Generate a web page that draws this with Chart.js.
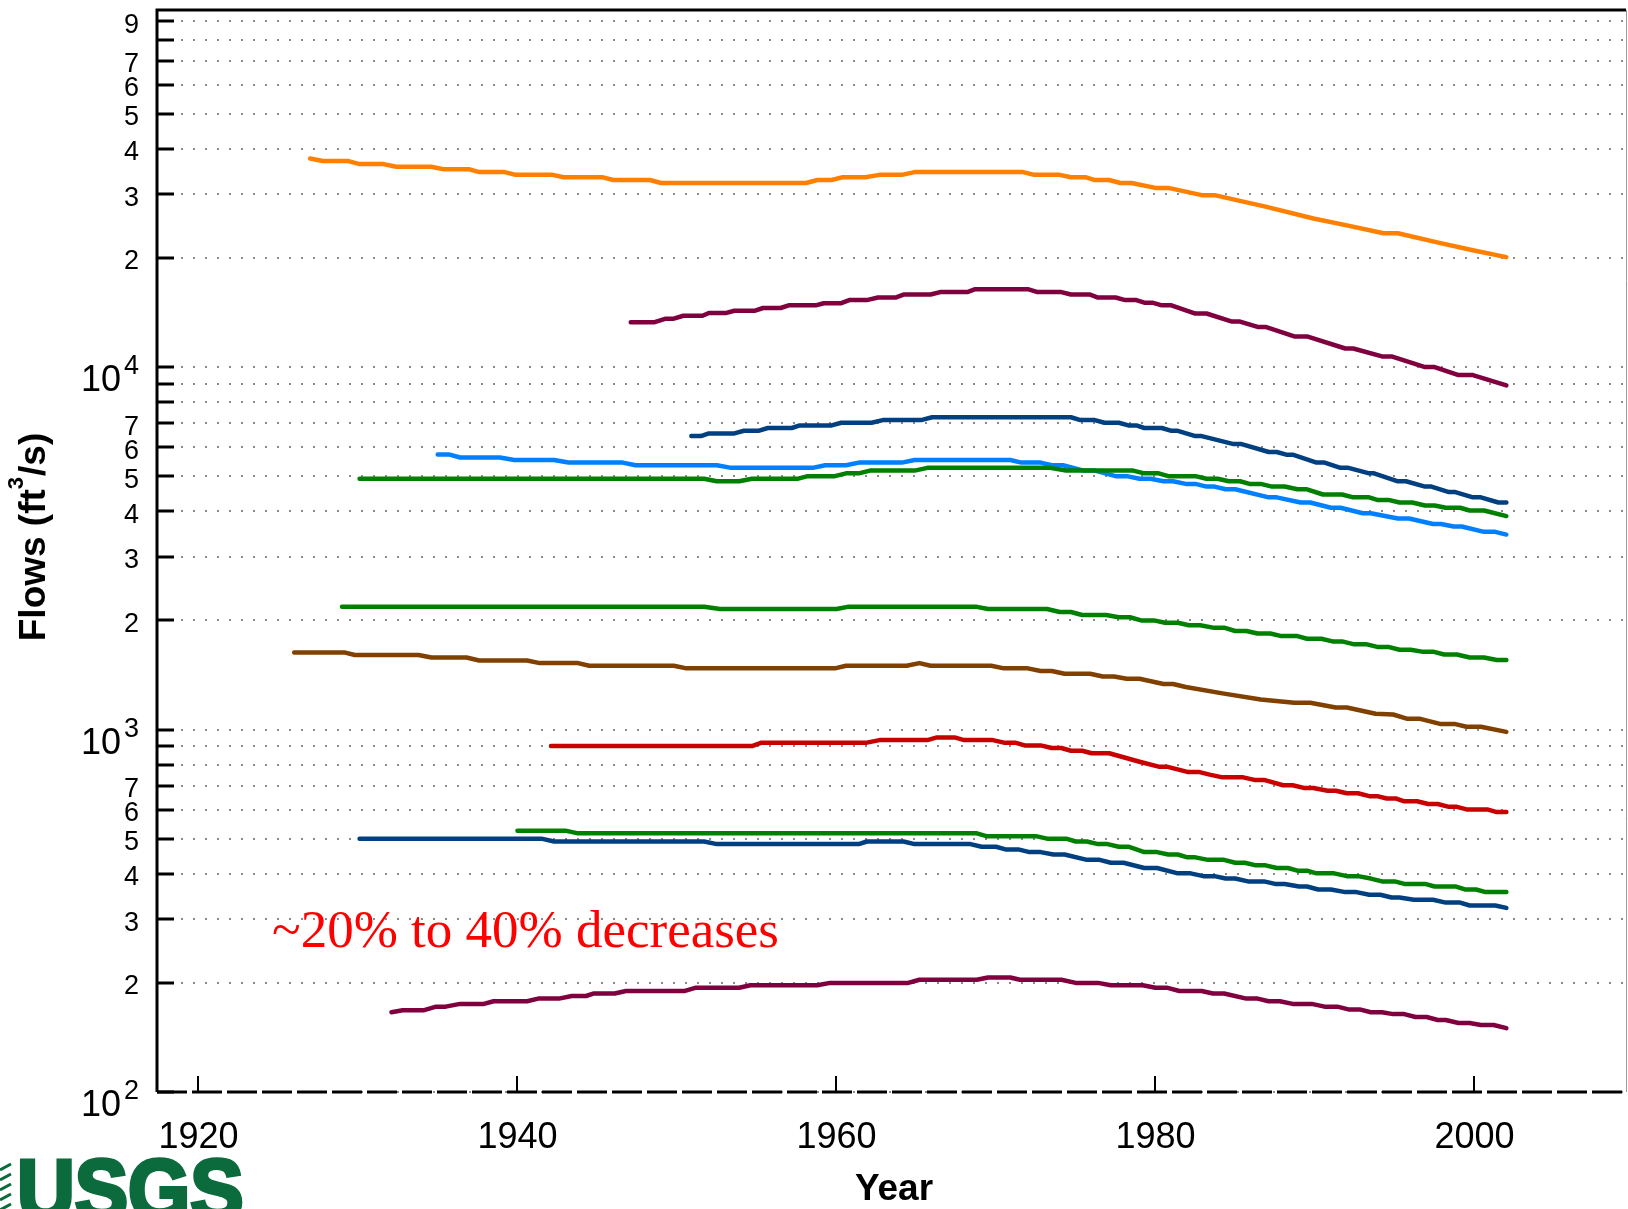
<!DOCTYPE html>
<html>
<head>
<meta charset="utf-8">
<script src="https://cdn.jsdelivr.net/npm/chart.js@4.4.1/dist/chart.umd.min.js"></script>
<style>
body{margin:0;background:#fff;}
canvas{display:block;}
</style>
</head>
<body>
<canvas id="flowChart" width="1628" height="1209"></canvas>
<script>
// flows, ft3/s, one pair of arrays per gauge line
const orangeYears = [1927.0,1927.8,1929.4,1930.1,1931.6,1932.4,1934.6,1935.4,1937.0,1937.6,1939.2,1939.9,1942.2,1942.9,1945.3,1946.0,1948.3,1949.0,1958.1,1958.8,1959.7,1960.4,1961.8,1962.7,1964.1,1964.9,1971.7,1972.4,1974.0,1974.7,1975.6,1976.2,1977.1,1977.8,1978.5,1980.0,1980.8,1982.9,1983.7,1986.9,1989.9,1992.0,1994.3,1995.2,1997.8,1999.9,2002.0];
const orangeFlows = [37600,37000,37000,36300,36300,35700,35700,35100,35100,34500,34500,33900,33900,33400,33400,32800,32800,32200,32200,32800,32800,33400,33400,33900,33900,34500,34500,33900,33900,33400,33400,32800,32800,32200,32200,31200,31200,29800,29800,27700,25700,24600,23400,23400,22000,21000,20100];

const plumTopYears = [1947.1,1948.6,1949.3,1949.8,1950.4,1951.6,1952.0,1953.1,1953.6,1954.9,1955.4,1956.5,1957.0,1958.7,1959.2,1960.3,1960.8,1961.9,1962.6,1963.7,1964.2,1965.9,1966.5,1968.2,1968.7,1972.0,1972.6,1974.1,1974.7,1975.9,1976.4,1977.5,1978.1,1978.8,1979.3,1979.8,1980.4,1981.0,1982.5,1983.2,1984.8,1985.3,1986.4,1986.9,1988.7,1989.5,1991.9,1992.4,1994.2,1994.8,1996.9,1997.5,1999.0,1999.9,2002.0];
const plumTopFlows = [13300,13300,13600,13600,13850,13850,14100,14100,14300,14300,14550,14550,14800,14800,15000,15000,15300,15300,15550,15550,15850,15850,16100,16100,16400,16400,16100,16100,15850,15850,15550,15550,15300,15300,15050,15050,14800,14800,14050,14050,13350,13350,12900,12900,12150,12150,11250,11250,10700,10700,10000,10000,9500,9500,8900];

const navyTopYears = [1950.9,1951.5,1952.0,1953.6,1954.2,1955.1,1955.7,1957.2,1957.7,1959.7,1960.3,1962.2,1962.9,1965.3,1966.0,1974.7,1975.3,1976.2,1976.8,1977.7,1978.3,1978.8,1979.3,1980.4,1981.0,1981.4,1982.5,1982.9,1984.9,1985.4,1987.1,1987.6,1988.2,1988.6,1990.1,1990.6,1991.6,1992.1,1993.4,1993.7,1995.2,1995.7,1996.9,1997.3,1998.4,1998.8,1999.9,2000.4,2001.5,2002.0];
const navyTopFlows = [6450,6450,6560,6560,6670,6670,6790,6790,6900,6900,7020,7020,7140,7140,7270,7270,7140,7140,7020,7020,6900,6900,6790,6790,6670,6670,6450,6450,6130,6130,5830,5830,5730,5730,5450,5450,5270,5270,5090,5090,4840,4840,4680,4680,4520,4520,4370,4370,4230,4230];

const skyYears = [1935.0,1935.7,1936.4,1938.9,1939.8,1942.3,1943.2,1946.6,1947.4,1952.5,1953.4,1958.5,1959.3,1960.6,1961.4,1964.1,1964.9,1970.9,1971.6,1972.8,1973.5,1974.2,1975.5,1976.2,1977.5,1978.2,1979.0,1979.7,1980.5,1981.1,1981.9,1982.5,1983.2,1983.7,1984.4,1985.0,1987.1,1987.6,1989.1,1989.7,1991.0,1991.6,1993.0,1993.5,1995.2,1995.9,1997.4,1997.9,1998.7,1999.2,2000.6,2001.3,2002.0];
const skyFlows = [5740,5740,5630,5630,5540,5540,5450,5450,5360,5360,5270,5270,5360,5360,5450,5450,5540,5540,5450,5450,5360,5360,5180,5180,5000,5000,4920,4920,4840,4840,4760,4760,4680,4680,4600,4600,4370,4370,4230,4230,4090,4090,3950,3950,3820,3820,3690,3690,3630,3630,3510,3510,3450];

const greenTopYears = [1930.1,1951.7,1952.5,1953.9,1954.7,1957.6,1958.2,1959.9,1960.6,1961.4,1962.1,1964.9,1965.7,1973.4,1974.4,1978.6,1979.3,1980.2,1980.8,1982.5,1983.2,1983.9,1984.6,1985.3,1985.9,1986.6,1987.3,1988.1,1988.9,1989.5,1990.5,1991.7,1992.4,1993.4,1993.9,1994.6,1995.3,1996.1,1996.9,1997.5,1998.2,1999.1,1999.7,2000.6,2002.0];
const greenTopFlows = [4920,4920,4840,4840,4920,4920,5000,5000,5090,5090,5180,5180,5270,5270,5180,5180,5090,5090,5000,5000,4920,4920,4840,4840,4760,4760,4680,4680,4600,4600,4450,4450,4370,4370,4300,4300,4230,4230,4150,4150,4090,4090,4020,4020,3880];

const greenMidYears = [1929.0,1951.7,1952.7,1960.0,1960.7,1968.8,1969.5,1973.2,1974.0,1974.7,1975.4,1976.9,1977.7,1978.4,1979.1,1979.9,1980.6,1981.4,1982.1,1982.8,1983.6,1984.3,1985.0,1985.7,1986.4,1987.2,1987.9,1988.9,1989.5,1990.4,1991.1,1991.7,1992.4,1993.2,1993.9,1994.6,1995.3,1996.0,1996.7,1997.4,1998.1,1998.9,1999.7,2000.6,2001.4,2002.0];
const greenMidFlows = [2180,2180,2150,2150,2180,2180,2150,2150,2110,2110,2070,2070,2040,2040,2000,2000,1970,1970,1940,1940,1910,1910,1870,1870,1840,1840,1810,1810,1780,1780,1750,1750,1720,1720,1690,1690,1660,1660,1640,1640,1610,1610,1580,1580,1555,1555];

const brownYears = [1926.0,1929.2,1929.8,1933.8,1934.6,1936.8,1937.6,1940.6,1941.4,1943.8,1944.5,1949.8,1950.6,1959.9,1960.6,1964.4,1965.2,1965.9,1969.7,1970.5,1972.0,1972.8,1973.5,1974.3,1975.9,1976.7,1977.4,1978.2,1979.0,1980.5,1981.1,1981.9,1984.2,1986.6,1988.7,1989.7,1991.3,1992.0,1993.8,1994.9,1995.8,1996.6,1997.9,1998.8,1999.5,2000.4,2002.0];
const brownFlows = [1630,1630,1605,1605,1580,1580,1550,1550,1525,1525,1500,1500,1475,1475,1500,1500,1525,1500,1500,1475,1475,1450,1450,1425,1425,1400,1400,1380,1380,1335,1335,1310,1258,1210,1185,1185,1150,1150,1105,1100,1070,1070,1035,1035,1018,1018,985];

const redYears = [1942.1,1954.7,1955.3,1961.9,1962.7,1965.7,1966.3,1967.4,1968.0,1969.8,1970.5,1971.2,1971.8,1972.8,1973.5,1974.1,1974.7,1975.4,1976.0,1977.1,1979.0,1980.2,1980.7,1982.0,1982.7,1983.4,1984.2,1985.5,1986.2,1986.8,1988.0,1988.6,1989.3,1989.9,1990.8,1991.3,1992.0,1992.7,1993.4,1993.9,1994.5,1995.1,1995.6,1996.4,1997.1,1997.7,1998.4,1998.9,1999.5,2000.8,2001.4,2002.0];
const redFlows = [900,900,920,920,935,935,951,951,935,935,920,920,904,904,889,889,874,874,860,860,815,790,790,764,764,751,738,738,726,726,702,702,690,690,678,678,667,667,655,655,645,645,634,634,623,623,612,612,602,602,592,592];

const greenLowYears = [1940.0,1943.0,1943.8,1968.8,1969.4,1972.5,1973.2,1974.4,1975.0,1975.7,1976.4,1977.0,1977.7,1978.3,1979.3,1980.1,1980.8,1981.4,1982.0,1982.5,1983.3,1984.3,1985.0,1985.6,1986.3,1986.9,1987.6,1988.3,1988.9,1989.5,1990.1,1991.2,1992.0,1992.7,1993.5,1994.2,1995.0,1995.6,1996.9,1997.5,1998.8,1999.4,2000.1,2000.7,2002.0];
const greenLowFlows = [526,526,517,517,508,508,500,500,491,491,483,483,475,475,459,459,452,452,444,444,437,437,429,429,422,422,415,415,408,408,401,401,394,394,388,381,381,375,375,369,369,362,362,356,356];

const navyLowYears = [1930.1,1941.5,1942.3,1951.7,1952.5,1961.4,1961.9,1964.2,1964.9,1968.4,1969.1,1970.0,1970.6,1971.4,1972.1,1972.8,1973.6,1974.3,1975.7,1976.5,1977.2,1978.0,1979.3,1980.1,1981.4,1982.2,1983.0,1983.7,1984.4,1985.0,1985.8,1986.8,1987.5,1988.1,1989.0,1989.5,1990.2,1991.0,1991.9,1992.6,1993.4,1994.1,1994.8,1995.3,1996.2,1997.4,1998.2,1999.1,1999.7,2001.3,2002.0];
const navyLowFlows = [500,500,491,491,483,483,491,491,483,483,475,475,467,467,459,459,452,452,437,437,429,429,415,415,401,401,394,394,388,388,381,381,375,375,369,369,362,362,356,356,350,350,344,344,339,339,333,333,327,327,322];

const plumLowYears = [1932.1,1932.8,1934.1,1934.9,1935.5,1936.4,1937.9,1938.5,1940.6,1941.3,1942.6,1943.4,1944.3,1944.8,1946.1,1946.8,1950.5,1951.2,1953.9,1954.6,1958.8,1959.6,1964.5,1965.2,1968.8,1969.5,1970.9,1971.5,1974.1,1975.0,1976.4,1977.2,1979.2,1980.0,1980.7,1981.5,1982.9,1983.6,1984.3,1985.7,1986.4,1987.1,1987.8,1988.6,1989.8,1990.6,1991.4,1992.1,1992.8,1993.5,1994.2,1994.9,1995.6,1996.3,1997.0,1997.7,1998.2,1999.0,1999.7,2000.4,2001.2,2002.0];
const plumLowFlows = [166,168,168,172,172,175,175,178,178,181,181,184,184,187,187,190,190,194,194,197,197,200,200,204,204,207,207,204,204,200,200,197,197,194,194,190,190,187,187,181,181,178,178,175,175,172,172,169,169,166,166,164,164,161,161,158,158,155,155,153,153,150];

const yearTicks = [1920, 1940, 1960, 1980, 2000];
const decades = [100, 1000, 10000];
const minorLabels = [2, 3, 4, 5, 6, 7];   // 8 and 9 left blank (except 9 in the top decade)

const SANS = '"Liberation Sans", Arial, sans-serif';
Chart.defaults.font.family = SANS;

function pts(xs, ys){
const out = [];
for(let i=0;i<Math.min(xs.length, ys.length);i++) out.push({x:xs[i], y:ys[i]});
return out;
}

function line(xs, ys, color){
return {
data: pts(xs, ys),
borderColor: color,
borderWidth: 4.5,
pointRadius: 0,
tension: 0,
borderCapStyle: "round",
borderJoinStyle: "round",
fill: false
};
}

// axis frame, inward ticks, decade labels, titles, note and logo
const frame = {
id: "frame",
afterDraw(chart){
const ctx = chart.ctx;
const a = chart.chartArea;
const xs = chart.scales.x;
const ys = chart.scales.y;

ctx.save();

ctx.strokeStyle = "#999";
ctx.lineWidth = 1;
ctx.beginPath();
ctx.moveTo(a.right + 0.5, a.top);
ctx.lineTo(a.right + 0.5, a.bottom);
ctx.stroke();

ctx.strokeStyle = "#000";
ctx.lineWidth = 3;
ctx.beginPath();
ctx.moveTo(a.left, a.bottom);
ctx.lineTo(a.left, a.top);
ctx.lineTo(a.right, a.top);
ctx.stroke();

ctx.setLineDash([30, 5]);
ctx.beginPath();
ctx.moveTo(a.left, a.bottom);
ctx.lineTo(a.right, a.bottom);
ctx.stroke();
ctx.setLineDash([]);

ys.ticks.forEach(t=>{
const py = Math.round(ys.getPixelForValue(t.value));
ctx.beginPath();
ctx.moveTo(a.left, py);
ctx.lineTo(a.left + 17, py);
ctx.stroke();
});

ctx.lineWidth = 2;
xs.ticks.forEach(t=>{
const px = Math.round(xs.getPixelForValue(t.value));
ctx.beginPath();
ctx.moveTo(px, a.bottom);
ctx.lineTo(px, a.bottom - 16);
ctx.stroke();
});

// 10^n labels
ctx.fillStyle = "#000";
decades.forEach(v=>{
const py = ys.getPixelForValue(v);
ctx.font = "36px " + SANS;
ctx.textAlign = "right";
ctx.textBaseline = "alphabetic";
ctx.fillText("10", 121, py + 24);
ctx.font = "27px " + SANS;
ctx.textAlign = "left";
ctx.fillText(String(Math.round(Math.log10(v))), 124, py + 7);
});

// y title with superscript
ctx.save();
ctx.translate(45, 537);
ctx.rotate(-Math.PI/2);
ctx.textAlign = "left";
ctx.textBaseline = "alphabetic";
const big = "bold 37px " + SANS;
const small = "bold 22px " + SANS;
ctx.font = big;
const w1 = ctx.measureText("Flows (ft").width;
const w3 = ctx.measureText("/s)").width;
ctx.font = small;
const w2 = ctx.measureText("3").width + 1;
let cx = -(w1 + w2 + w3) / 2;
ctx.font = big;
ctx.fillText("Flows (ft", cx, 0);
cx += w1;
ctx.font = small;
ctx.fillText("3", cx, -22);
cx += w2;
ctx.font = big;
ctx.fillText("/s)", cx, 0);
ctx.restore();

// x title
ctx.font = "bold 37px " + SANS;
ctx.textAlign = "center";
ctx.fillText("Year", 894, 1200);

// note
ctx.font = '53px "Liberation Serif", "Times New Roman", serif';
ctx.fillStyle = "#ff0000";
ctx.textAlign = "left";
ctx.fillText("~20% to 40% decreases", 272, 947);

// USGS logo, cut off by the bottom edge like the original
ctx.fillStyle = "#0b6b3d";
ctx.strokeStyle = "#0b6b3d";
ctx.save();
ctx.translate(17, 1219);
ctx.scale(0.93, 1);
ctx.font = "bold 86px " + SANS;
ctx.lineWidth = 4;
ctx.fillText("USGS", 0, 0);
ctx.strokeText("USGS", 0, 0);
ctx.restore();
ctx.lineWidth = 3;
for(let i=0;i<5;i++){
const yy = 1164 + i*10;
ctx.beginPath();
ctx.moveTo(0, yy + 6);
ctx.lineTo(11, yy);
ctx.stroke();
}

ctx.restore();
}
};

new Chart(document.getElementById("flowChart"), {
type: "line",
data: {
datasets: [
line(orangeYears, orangeFlows, "#ff8000"),
line(plumTopYears, plumTopFlows, "#80003f"),
line(navyTopYears, navyTopFlows, "#004080"),
line(greenTopYears, greenTopFlows, "#008000"),
line(skyYears, skyFlows, "#0080ff"),
line(greenMidYears, greenMidFlows, "#008000"),
line(brownYears, brownFlows, "#804000"),
line(redYears, redFlows, "#c80000"),
line(greenLowYears, greenLowFlows, "#008000"),
line(navyLowYears, navyLowFlows, "#004080"),
line(plumLowYears, plumLowFlows, "#80003f")
]
},
options: {
responsive: false,
animation: false,
devicePixelRatio: 1,
layout: { padding: { top: 10, right: 2, left: 0, bottom: 0 } },
plugins: { legend: { display: false }, tooltip: { enabled: false } },
scales: {
x: {
type: "linear",
min: 1917.4,
max: 2009.5,
afterBuildTicks: s => { s.ticks = yearTicks.map(v => ({ value: v })); },
afterFit: s => { s.height = 117; s.paddingLeft = 0; s.paddingRight = 0; },
ticks: {
callback: v => String(v),
font: { size: 36 },
color: "#000",
padding: 16,
maxRotation: 0,
autoSkip: false
},
grid: { display: false },
border: { display: false }
},
y: {
type: "logarithmic",
min: 100,
max: 96600,
afterBuildTicks: s => {
const list = [];
decades.forEach(d => { for(let m=1;m<=9;m++) list.push({ value: d*m }); });
s.ticks = list;
},
afterFit: s => { s.width = 157; s.paddingTop = 0; s.paddingBottom = 0; },
ticks: {
autoSkip: false,
color: "#000",
font: { size: 27 },
padding: 18,
labelOffset: 4,
callback: v => {
const d = Math.pow(10, Math.floor(Math.log10(v) + 1e-9));
const m = Math.round(v / d);
if(minorLabels.includes(m)) return String(m);
if(m === 9 && d === 10000) return "9";
return "";
}
},
grid: { color: "#8a8a8a", lineWidth: 2, drawTicks: false },
border: { display: false, dash: [2, 10] }
}
}
},
plugins: [frame]
});
</script>
</body>
</html>
